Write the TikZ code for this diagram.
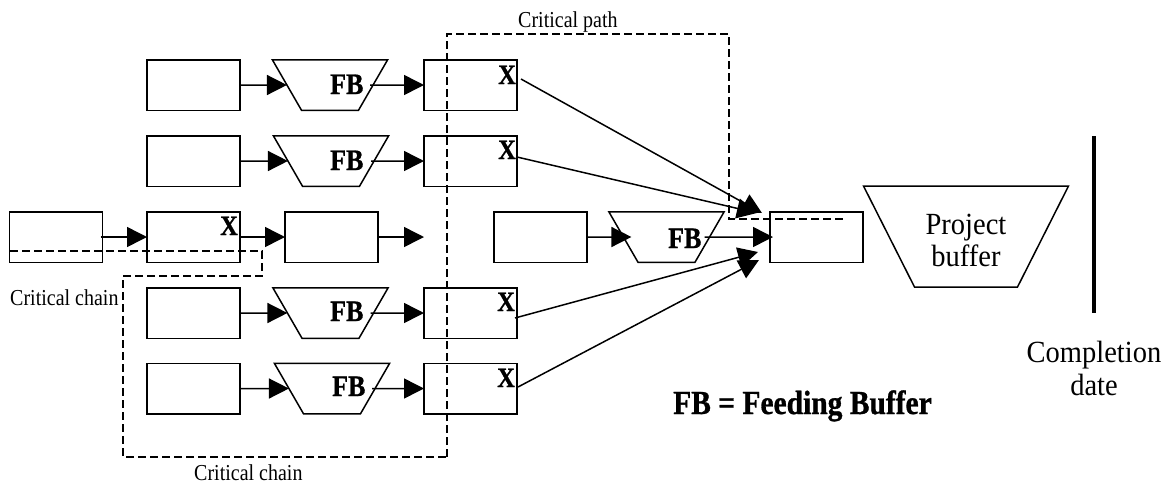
\documentclass[tikz,border=0pt]{standalone}
\usepackage{graphicx}
\usepackage{fontspec}
\setmainfont{Liberation Serif}[BoldFeatures={FakeBold=1}]
\usetikzlibrary{arrows.meta,shapes.geometric}
\newcommand{\fbfill}{\phantom{\rule{57pt}{50.5pt}}}
\newcommand{\pbfill}{\phantom{\rule{103pt}{101pt}}}
\newcommand{\tallA}[1]{\scalebox{1}[1.14]{#1}}
\newcommand{\tallB}[1]{\scalebox{1}[1.08]{#1}}
\tikzset{
  x=1pt,y=-1pt,
  box/.style={draw,line width=1.5pt,minimum width=93pt,minimum height=50.5pt,inner sep=0pt,outer sep=0pt},
  fbshape/.style={draw,line width=1.5pt,trapezium,shape border rotate=180,trapezium left angle=60,trapezium right angle=60,inner sep=0pt,outer sep=0pt},
  pbshape/.style={draw,line width=1.5pt,trapezium,shape border rotate=180,trapezium left angle=63.2,trapezium right angle=63.2,inner sep=0pt,outer sep=0pt},
  arr/.style={line width=1.5pt,-{Triangle[length=20pt,width=20pt,inset=0pt]}},
  chain/.style={line width=1.4pt,dash pattern=on 8pt off 4pt},
  small/.style={font=\fontsize{20}{24}\selectfont,inner sep=0pt,anchor=base west},
  big/.style={font=\fontsize{28.5}{32}\selectfont,inner sep=0pt,anchor=base},
  fblabel/.style={font=\fontsize{26}{30}\bfseries\selectfont,inner sep=0pt,anchor=base west},
  xlabel/.style={font=\fontsize{24.5}{30}\bfseries\selectfont,inner sep=0pt,anchor=base west}
}
\begin{document}
\begin{tikzpicture}
\useasboundingbox (0,0) rectangle (1162,483);
% boxes
\node[box] (a1) at (193.5,85) {};
\node[box] (a2) at (193.5,161) {};
\node[box] (a0) at (56,237) {};
\node[box] (a3) at (193.5,237) {};
\node[box] (b3) at (331.5,237) {};
\node[box] (a4) at (193.5,313) {};
\node[box] (a5) at (193.5,388.5) {};
\node[box] (e1) at (470.5,85) {};
\node[box] (e2) at (470.5,161) {};
\node[box] (e4) at (470.5,313) {};
\node[box] (e5) at (470.5,388.5) {};
\node[box] (m) at (540.5,237) {};
\node[box] (fin) at (816.5,237) {};
% trapezoids
\node[fbshape] (f1) at (330,85) {\fbfill};
\node[fbshape] (f2) at (331,161) {\fbfill};
\node[fbshape] (f4) at (330.5,313) {\fbfill};
\node[fbshape] (f5) at (332,388.5) {\fbfill};
\node[fbshape] (fm) at (666.5,237) {\fbfill};
\node[pbshape] (pb) at (966,236.5) {\pbfill};
% arrows
\coordinate (t3) at (424,237);
\draw[arr] (a1.east) -- (f1.west);
\draw[arr,shorten <=-3pt] (f1.east) -- (e1.west);
\draw[arr] (a2.east) -- (f2.west);
\draw[arr,shorten <=-3pt] (f2.east) -- (e2.west);
\draw[arr,shorten <=-2pt] (a0.east) -- (a3.west);
\draw[arr] (a3.east) -- (b3.west);
\draw[arr] (b3.east) -- (t3);
\draw[arr] (a4.east) -- (f4.west);
\draw[arr,shorten <=-3pt] (f4.east) -- (e4.west);
\draw[arr] (a5.east) -- (f5.west);
\draw[arr,shorten <=-3pt] (f5.east) -- (e5.west);
\draw[arr,shorten >=-8pt] (m.east) -- (fm.west);
\draw[arr,shorten <=-5pt,shorten >=-3pt] (fm.east) -- (fin.west);
% long arrows
\coordinate (c1) at (762,213);
\coordinate (c2) at (757,213);
\coordinate (c4) at (758,252);
\coordinate (c5) at (759,260);
\coordinate (s1) at (521,79);
\coordinate (s2) at (517,157);
\coordinate (s4) at (515,318);
\coordinate (s5) at (518,387);
\draw[arr] (s1) -- (c1);
\draw[arr] (s2) -- (c2);
\draw[arr] (s4) -- (c4);
\draw[arr] (s5) -- (c5);
% dashed outlines
\coordinate (p0) at (447,457);
\coordinate (p1) at (447,34);
\coordinate (p2) at (729,34);
\coordinate (p3) at (729,219);
\coordinate (p4) at (845,219);
\draw[chain] (p0) -- (p1) -- (p2) -- (p3) -- (p4);
\coordinate (q0) at (10,251);
\coordinate (q1) at (262,251);
\coordinate (q2) at (262,276);
\coordinate (q3) at (123,276);
\coordinate (q4) at (123,457);
\draw[chain] (q0) -- (q1) -- (q2) -- (q3) -- (q4) -- (p0);
% completion line
\coordinate (l0) at (1093.5,136);
\coordinate (l1) at (1093.5,313);
\draw[line width=4pt] (l0) -- (l1);
% labels
\node[small] (tcp) at (518,27) {\tallA{Critical path}};
\node[small] (tcc1) at (10,305) {\tallA{Critical chain}};
\node[small] (tcc2) at (194,480) {\tallA{Critical chain}};
\node[fblabel] (fb1) at (330,94) {\tallA{FB}};
\node[fblabel] (fb2) at (330,170) {\tallA{FB}};
\node[fblabel] (fb4) at (330,321) {\tallA{FB}};
\node[fblabel] (fb5) at (332,396) {\tallA{FB}};
\node[fblabel] (fbm) at (668,248) {\tallA{FB}};
\node[xlabel] (x1) at (498,84) {\tallA{X}};
\node[xlabel] (x2) at (498,159) {\tallA{X}};
\node[xlabel] (x3) at (220,235) {\tallA{X}};
\node[xlabel] (x4) at (497,311) {\tallA{X}};
\node[xlabel] (x5) at (497,387) {\tallA{X}};
\node[big] (tp1) at (966,234) {\tallB{Project}};
\node[big] (tp2) at (966,266) {\tallB{buffer}};
\node[big] (tc1) at (1094,362) {\tallB{Completion}};
\node[big] (tc2) at (1094,395) {\tallB{date}};
\node[inner sep=0pt,anchor=base west,font=\fontsize{29.5}{32}\bfseries\selectfont] (tfb) at (673,414) {\tallA{FB = Feeding Buffer}};
\end{tikzpicture}
\end{document}
